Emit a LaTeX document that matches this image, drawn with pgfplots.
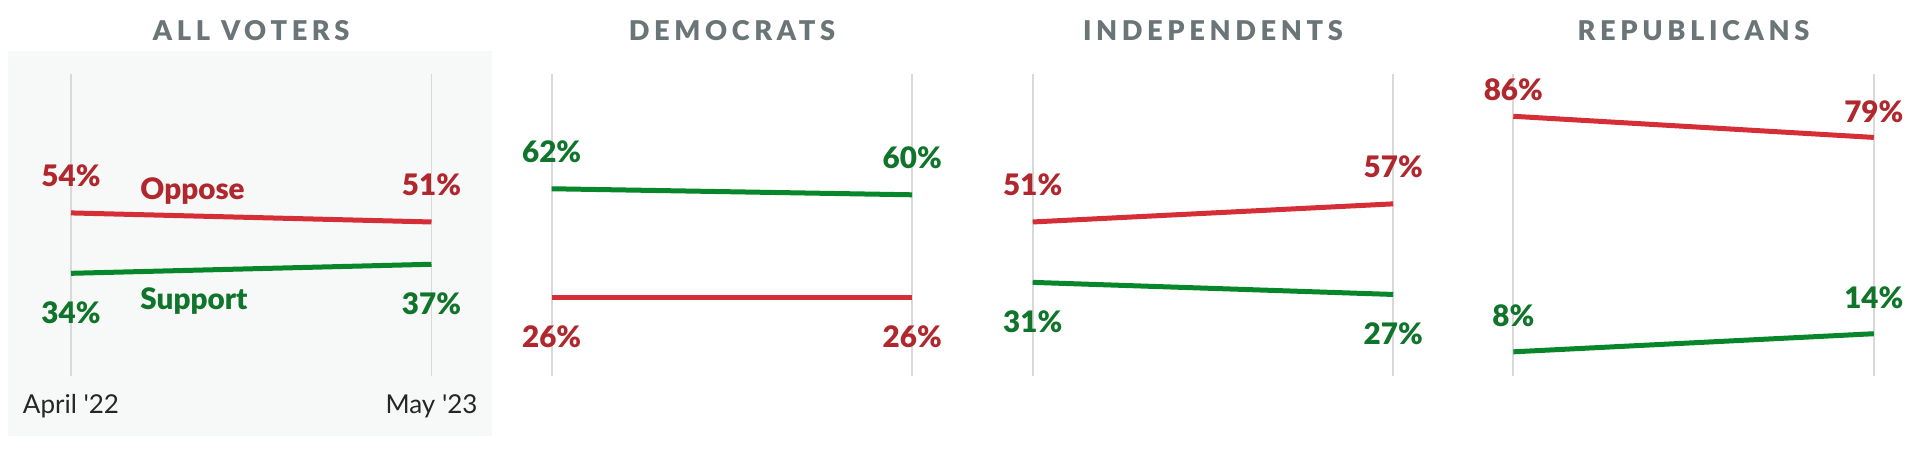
\documentclass[border=0pt]{standalone}
\usepackage{fontspec}
\setmainfont{Lato}
\newfontfamily\tickfont{Lato}[Ligatures=TeXOff]
\IfFontExistsTF{Lato Black}{%
  \newfontfamily\vfont{Lato Black}
  \newfontfamily\titlefont{Lato Black}[LetterSpace=17]
}{%
  \newfontfamily\vfont{Lato}[UprightFont=* Bold, UprightFeatures={FakeBold=1}]
  \newfontfamily\titlefont{Lato}[UprightFont=* Bold, UprightFeatures={FakeBold=1}, LetterSpace=17]
}
\usepackage{pgfplots}
\pgfplotsset{compat=1.18}
\definecolor{redline}{HTML}{D62E36}
\definecolor{redtext}{HTML}{B0282E}
\definecolor{greenline}{HTML}{07862A}
\definecolor{greentext}{HTML}{10752B}
\definecolor{titlegray}{HTML}{697577}
\definecolor{bgpanel}{HTML}{F7F9F8}
\definecolor{gridgray}{HTML}{D9D9D9}
\definecolor{ticktext}{HTML}{262626}
\pgfplotsset{
  panel/.style={scale only axis, width=180.25bp, height=151bp, anchor=south west,
    xmin=0, xmax=1, ymin=0, ymax=100, xtick={0,1}, ytick=\empty,
    xmajorgrids, major grid style={gridgray, line width=0.9bp},
    axis line style={draw=none}, major tick length=0pt, clip=false,
    xticklabel style={font=\tickfont\fontsize{13bp}{14bp}\selectfont, text=ticktext, anchor=base, yshift=-18.6bp}},
}
\tikzset{
  vlab/.style={font=\vfont\fontsize{14.8bp}{16bp}\selectfont, anchor=base, inner sep=0pt},
  ptitle/.style={font=\titlefont\fontsize{13.6bp}{15bp}\selectfont, text=titlegray, anchor=base, inner sep=0pt, yshift=16.5bp},
  rl/.style={redline, line width=2.5bp, line cap=butt, mark=none},
  gl/.style={greenline, line width=2.5bp, line cap=butt, mark=none},
}
\begin{document}
\begin{tikzpicture}
\path[use as bounding box] (0bp,0bp) rectangle (960bp,230bp);
\fill[bgpanel] (4bp,12.15bp) rectangle (245.85bp,204.5bp);
% ALL VOTERS
\begin{axis}[panel, at={(35.5bp,42bp)}, xticklabels={April '22, May '23}]
\addplot[rl] coordinates {(0,54) (1,51)};
\addplot[gl] coordinates {(0,34) (1,37)};
\node[ptitle] at (rel axis cs:0.5,1) {ALL VOTERS};
\node[vlab, text=redtext, yshift=13bp] at (axis cs:0,54) {54\%};
\node[vlab, text=redtext, yshift=13bp] at (axis cs:1,51) {51\%};
\node[vlab, text=greentext, yshift=-25bp] at (axis cs:0,34) {34\%};
\node[vlab, text=greentext, yshift=-25bp] at (axis cs:1,37) {37\%};
\node[vlab, text=redtext] at (axis cs:0.337,58.3) {Oppose};
\node[vlab, text=greentext] at (axis cs:0.341,22.1) {Support};
\end{axis}
% DEMOCRATS
\begin{axis}[panel, at={(275.85bp,42bp)}, xticklabels={}]
\addplot[rl] coordinates {(0,26) (1,26)};
\addplot[gl] coordinates {(0,62) (1,60)};
\node[ptitle] at (rel axis cs:0.5,1) {DEMOCRATS};
\node[vlab, text=greentext, yshift=13bp] at (axis cs:0,62) {62\%};
\node[vlab, text=greentext, yshift=13bp] at (axis cs:1,60) {60\%};
\node[vlab, text=redtext, yshift=-25bp] at (axis cs:0,26) {26\%};
\node[vlab, text=redtext, yshift=-25bp] at (axis cs:1,26) {26\%};
\end{axis}
% INDEPENDENTS
\begin{axis}[panel, at={(516.35bp,42bp)}, xticklabels={}]
\addplot[rl] coordinates {(0,51) (1,57)};
\addplot[gl] coordinates {(0,31) (1,27)};
\node[ptitle] at (rel axis cs:0.5,1) {INDEPENDENTS};
\node[vlab, text=redtext, yshift=13bp] at (axis cs:0,51) {51\%};
\node[vlab, text=redtext, yshift=13bp] at (axis cs:1,57) {57\%};
\node[vlab, text=greentext, yshift=-25bp] at (axis cs:0,31) {31\%};
\node[vlab, text=greentext, yshift=-25bp] at (axis cs:1,27) {27\%};
\end{axis}
% REPUBLICANS
\begin{axis}[panel, at={(756.65bp,42bp)}, xticklabels={}]
\addplot[rl] coordinates {(0,86) (1,79)};
\addplot[gl] coordinates {(0,8) (1,14)};
\node[ptitle] at (rel axis cs:0.5,1) {REPUBLICANS};
\node[vlab, text=redtext, yshift=7.8bp] at (axis cs:0,86) {86\%};
\node[vlab, text=redtext, yshift=7.6bp] at (axis cs:1,79) {79\%};
\node[vlab, text=greentext, yshift=12.5bp] at (axis cs:0,8) {8\%};
\node[vlab, text=greentext, yshift=12.5bp] at (axis cs:1,14) {14\%};
\end{axis}
\end{tikzpicture}
\end{document}
